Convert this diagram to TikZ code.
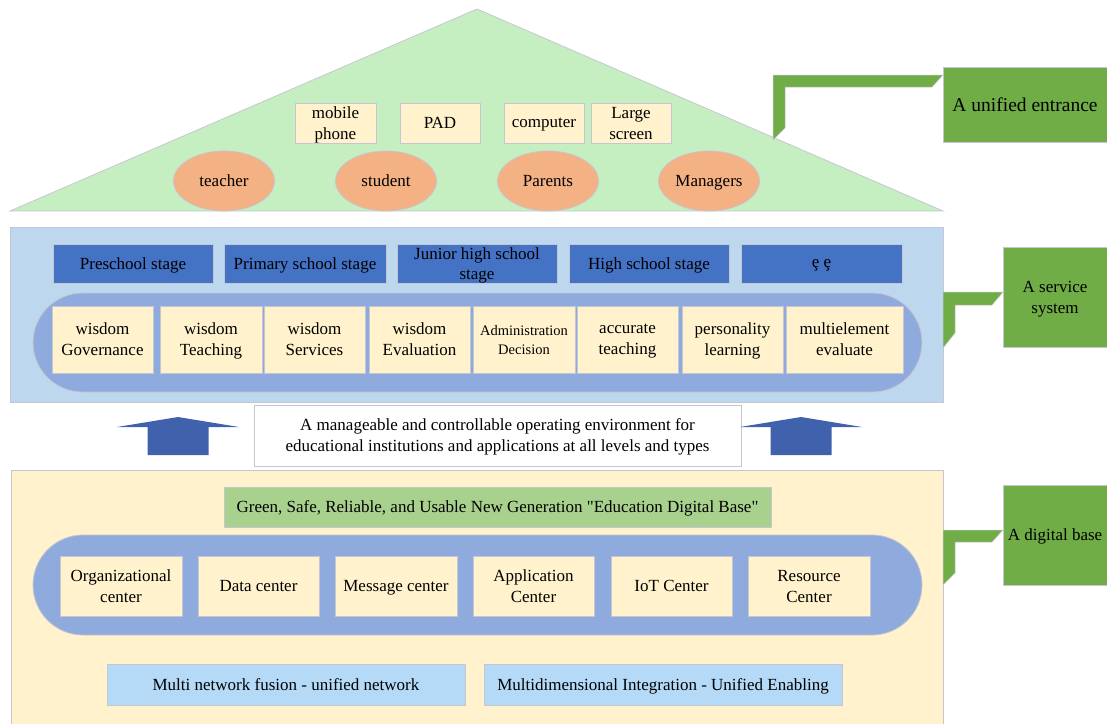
\documentclass[tikz,border=0pt]{standalone}
\usepackage{fontspec}
\setmainfont{Liberation Serif}[Ligatures=TeXOff]
\usetikzlibrary{shapes,positioning}
\definecolor{roofgreen}{RGB}{198,239,193}
\definecolor{cream}{RGB}{255,242,204}
\definecolor{salmon}{RGB}{244,177,131}
\definecolor{tagGreen}{RGB}{112,173,71}
\definecolor{skyblue}{RGB}{189,215,238}
\definecolor{stageblue}{RGB}{68,114,196}
\definecolor{ringblue}{RGB}{143,170,220}
\definecolor{arrowblue}{RGB}{64,98,172}
\definecolor{bannergreen}{RGB}{169,209,142}
\definecolor{paleblue}{RGB}{180,218,247}
\definecolor{edgegrey}{RGB}{198,198,210}

\begin{document}
\begin{tikzpicture}[x=1pt,y=-1pt,
    every node/.style={font=\fontsize{17}{21}\selectfont, align=center, inner sep=0pt, text depth=0pt},
    box/.style={rectangle, draw=edgegrey, line width=0.8pt},
    device/.style={box, fill=cream, minimum height=40},
    person/.style={ellipse, draw=edgegrey, line width=0.8pt, fill=salmon, minimum width=101, minimum height=60},
    stage/.style={box, fill=stageblue, minimum height=39},
    service/.style={box, fill=cream, minimum height=67},
    hub/.style={box, fill=cream, minimum height=60},
    ring/.style={box, fill=ringblue, minimum width=889},
    tagbox/.style={box, fill=tagGreen},
    elbow/.style={fill=tagGreen, draw=edgegrey, line width=0.5pt},
    uparrow/.style={fill=arrowblue}]
    \useasboundingbox (0,0) rectangle (1107,723);

    % Roof: one unified entrance
    \draw[fill=roofgreen, draw=edgegrey, line width=0.8pt] (10,211) -- (477,9) -- (943,211) -- cycle;
    \node[device, minimum width=81] (phone) at (335.5,123) {mobile\\phone};
    \node[device, minimum width=80] (pad) at (440,123) {PAD};
    \node[device, minimum width=80] (computer) at (544,123) {computer};
    \node[device, minimum width=80] (screen) at (631,123) {Large\\screen};
    \node[person] (teacher) at (224,181) {teacher};
    \node[person] (student) at (386,181) {student};
    \node[person] (parents) at (548,181) {Parents};
    \node[person] (managers) at (709,181) {Managers};

    % Service system panel
    \node[box, fill=skyblue, minimum width=933, minimum height=175] (svcpanel) at (476.5,314.5) {};
    \node[stage, minimum width=160] (preschool) at (133,263.5) {Preschool stage};
    \node[stage, minimum width=162] (primary) at (305,263.5) {Primary school stage};
    \node[stage, minimum width=160, font=\fontsize{17}{20}\selectfont] (junior) at (477,263.5) {Junior high school\\stage};
    \node[stage, minimum width=160] (high) at (649,263.5) {High school stage};
    \node[stage, minimum width=161] (etc) at (821.5,263.5) {ȩ ȩ};
    \node[ring, minimum height=99, rounded corners=49.5pt] (svcring) at (477.5,342.5) {};
    \node[service, minimum width=101] (governance) at (102.5,339.5) {wisdom\\Governance};
    \node[service, minimum width=102] (teaching) at (211,339.5) {wisdom\\Teaching};
    \node[service, minimum width=101] (services) at (314.5,339.5) {wisdom\\Services};
    \node[service, minimum width=101] (evaluation) at (419.5,339.5) {wisdom\\Evaluation};
    \node[service, minimum width=102, font=\fontsize{14.5}{19}\selectfont] (admin) at (524,339.5) {Administration\\Decision};
    \node[service, minimum width=101] (accurate) at (627.5,339.5) {accurate\\teaching};
    \node[service, minimum width=101] (personality) at (732.5,339.5) {personality\\learning};
    \node[service, minimum width=117] (multielement) at (844.5,339.5) {multielement\\evaluate};

    % Operating environment between the layers
    \node[box, fill=white, minimum width=487, minimum height=61] (environment) at (497.5,435.5)
        {A manageable and controllable operating environment for\\educational institutions and applications at all levels and types};
    \foreach \cx in {178,801}
        \fill[uparrow] (\cx-30.5,455) -- (\cx-30.5,427) -- (\cx-61,427) -- (\cx,417)
            -- (\cx+61,427) -- (\cx+30.5,427) -- (\cx+30.5,455) -- cycle;

    % Digital base panel
    \node[box, fill=cream, minimum width=932, minimum height=256] (basepanel) at (477,598) {};
    \node[box, fill=bannergreen, minimum width=547, minimum height=40] (banner) at (497.5,507)
        {Green, Safe, Reliable, and Usable New Generation "Education Digital Base"};
    \node[ring, minimum height=100, rounded corners=50pt] (basering) at (477.5,585) {};
    \node[hub, minimum width=122] (organizational) at (121,586) {Organizational\\center};
    \node[hub, minimum width=121] (data) at (258.5,586) {Data center};
    \node[hub, minimum width=122] (message) at (396,586) {Message center};
    \node[hub, minimum width=121] (application) at (533.5,586) {Application\\Center};
    \node[hub, minimum width=121] (iot) at (671.5,586) {IoT Center};
    \node[hub, minimum width=122] (resource) at (809,586) {Resource\\Center};
    \node[box, fill=paleblue, minimum width=358, minimum height=41] (fusion) at (286,684.5) {Multi network fusion - unified network};
    \node[box, fill=paleblue, minimum width=358, minimum height=41] (enabling) at (663,684.5) {Multidimensional Integration - Unified Enabling};

    % Layer tags with bent connectors
    \draw[elbow] (773,140) -- (773,75) -- (943,75) -- (932,87) -- (785,87) -- (785,128) -- cycle;
    \node[tagbox, minimum width=164, minimum height=75, font=\fontsize{19.5}{23}\selectfont] (entrance) at (1025,104.5) {A unified entrance};
    \draw[elbow] (943,348) -- (943,292) -- (1003,292) -- (992,305) -- (955,305) -- (955,333) -- cycle;
    \node[tagbox, minimum width=104, minimum height=100] (system) at (1055,297) {A service\\system};
    \draw[elbow] (943,585) -- (943,530) -- (1003,530) -- (992,542) -- (955,542) -- (955,573) -- cycle;
    \node[tagbox, minimum width=104, minimum height=100] (digital) at (1055,535) {A digital base};
\end{tikzpicture}
\end{document}
